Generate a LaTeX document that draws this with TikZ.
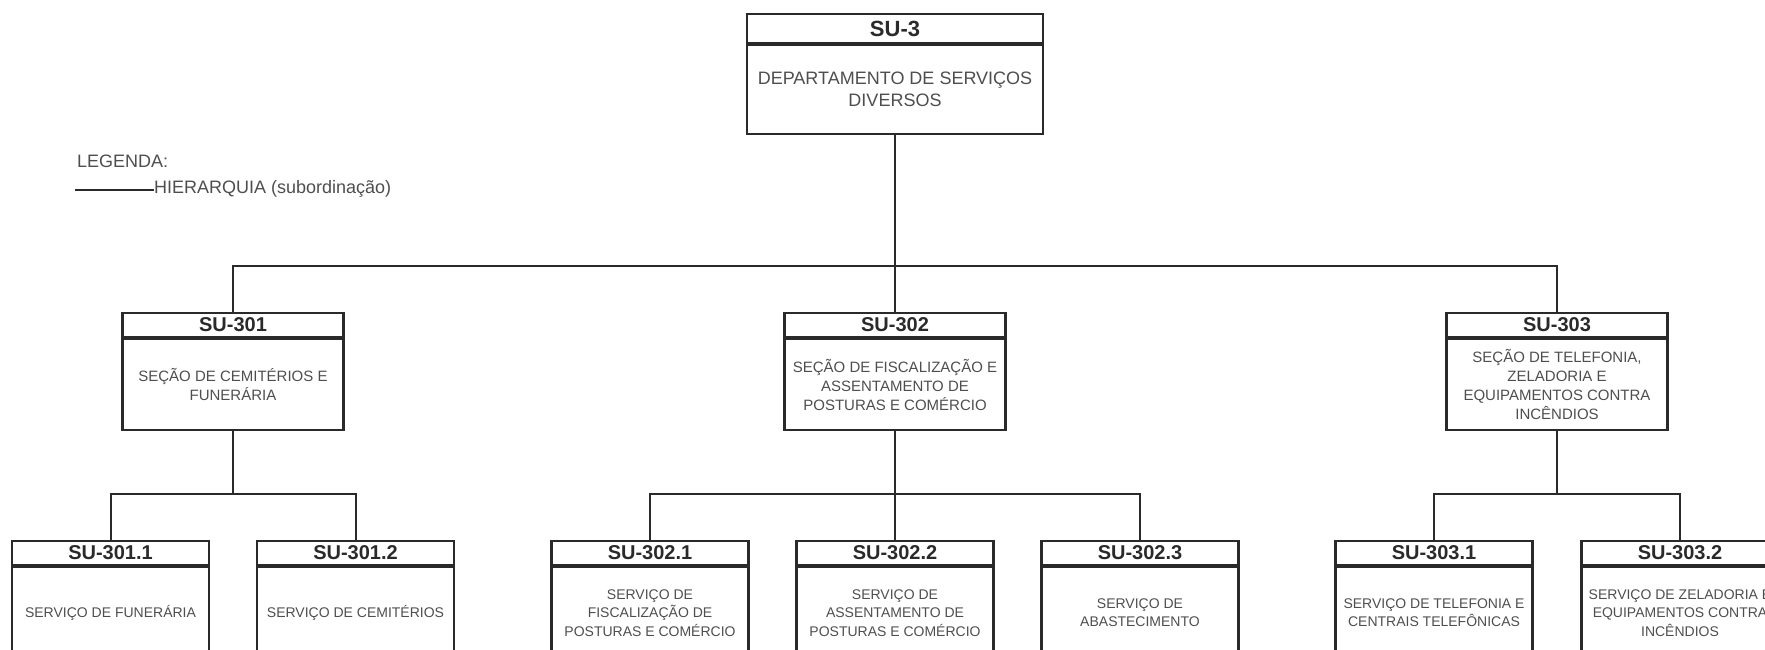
\documentclass[tikz,border=0pt]{standalone}
\usepackage{fontspec}
\setmainfont{Liberation Sans}
\definecolor{ink}{HTML}{2A2A2A}
\definecolor{txt}{HTML}{4E4E4E}
\begin{document}
\begin{tikzpicture}[x=1pt,y=-1pt,
  hdr/.style={draw=ink, line width=2.2pt, anchor=north, inner sep=0pt, text=ink,
    font=\bfseries\fontsize{20}{22}\selectfont, minimum height=24pt},
  bdy/.style={draw=ink, line width=2.2pt, anchor=north, inner sep=0pt, align=center,
    text=txt, minimum height=91pt},
  topfont/.style={font=\fontsize{18}{22}\selectfont},
  midfont/.style={font=\fontsize{15}{19}\selectfont},
  lowfont/.style={font=\fontsize{14}{18.5}\selectfont},
  wire/.style={draw=ink, line width=2pt},
  legtext/.style={anchor=west, inner sep=0pt, text=txt, font=\fontsize{18}{22}\selectfont}]
\useasboundingbox (0,0) rectangle (1765,650);
\clip (0,0) rectangle (1765,650);

% level 1
\node[hdr, minimum width=296pt, minimum height=29pt, font=\bfseries\fontsize{22}{24}\selectfont] (h3) at (895,13) {SU-3};
\node[bdy, topfont, minimum width=296pt, minimum height=89pt] (b3) at (h3.south) {DEPARTAMENTO DE SERVIÇOS\\DIVERSOS};

% legend
\node[legtext] (leg) at (77,161) {LEGENDA:};
\node[legtext] (hier) at (154,189) {HIERARQUIA (subordinação)};
\coordinate (legl) at (75,190);
\draw[wire] (legl) -- (hier.west |- legl);

% level 2
\node[hdr, minimum width=221pt] (h301) at (233,312) {SU-301};
\node[bdy, midfont, minimum width=221pt] (b301) at (h301.south) {SEÇÃO DE CEMITÉRIOS E\\FUNERÁRIA};
\node[hdr, minimum width=221pt] (h302) at (895,312) {SU-302};
\node[bdy, midfont, minimum width=221pt] (b302) at (h302.south) {SEÇÃO DE FISCALIZAÇÃO E\\ASSENTAMENTO DE\\POSTURAS E COMÉRCIO};
\node[hdr, minimum width=221pt] (h303) at (1557,312) {SU-303};
\node[bdy, midfont, minimum width=221pt] (b303) at (h303.south) {SEÇÃO DE TELEFONIA,\\ZELADORIA E\\EQUIPAMENTOS CONTRA\\INCÊNDIOS};

% level 3
\node[hdr, minimum width=197pt] (h3011) at (110.5,540) {SU-301.1};
\node[bdy, lowfont, minimum width=197pt] (b3011) at (h3011.south) {SERVIÇO DE FUNERÁRIA};
\node[hdr, minimum width=197pt] (h3012) at (355.5,540) {SU-301.2};
\node[bdy, lowfont, minimum width=197pt] (b3012) at (h3012.south) {SERVIÇO DE CEMITÉRIOS};

\node[hdr, minimum width=197pt] (h3021) at (650,540) {SU-302.1};
\node[bdy, lowfont, minimum width=197pt] (b3021) at (h3021.south) {SERVIÇO DE\\FISCALIZAÇÃO DE\\POSTURAS E COMÉRCIO};
\node[hdr, minimum width=197pt] (h3022) at (895,540) {SU-302.2};
\node[bdy, lowfont, minimum width=197pt] (b3022) at (h3022.south) {SERVIÇO DE\\ASSENTAMENTO DE\\POSTURAS E COMÉRCIO};
\node[hdr, minimum width=197pt] (h3023) at (1140,540) {SU-302.3};
\node[bdy, lowfont, minimum width=197pt] (b3023) at (h3023.south) {SERVIÇO DE\\ABASTECIMENTO};

\node[hdr, minimum width=197pt] (h3031) at (1434,540) {SU-303.1};
\node[bdy, lowfont, minimum width=197pt] (b3031) at (h3031.south) {SERVIÇO DE TELEFONIA E\\CENTRAIS TELEFÔNICAS};
\node[hdr, minimum width=197pt] (h3032) at (1680,540) {SU-303.2};
\node[bdy, lowfont, minimum width=197pt] (b3032) at (h3032.south) {SERVIÇO DE ZELADORIA E\\EQUIPAMENTOS CONTRA\\INCÊNDIOS};

% connectors
\coordinate (j1) at (895,266);
\draw[wire] (b3.south) -- (j1);
\draw[wire] (h301.north) |- (j1) -| (h303.north);
\draw[wire] (j1) -- (h302.north);

\coordinate (j2) at (233,494);
\draw[wire] (b301.south) -- (j2);
\draw[wire] (h3011.north) |- (j2) -| (h3012.north);

\coordinate (j3) at (895,494);
\draw[wire] (b302.south) -- (j3);
\draw[wire] (h3021.north) |- (j3) -| (h3023.north);
\draw[wire] (j3) -- (h3022.north);

\coordinate (j4) at (1557,494);
\draw[wire] (b303.south) -- (j4);
\draw[wire] (h3031.north) |- (j4) -| (h3032.north);
\end{tikzpicture}
\end{document}
